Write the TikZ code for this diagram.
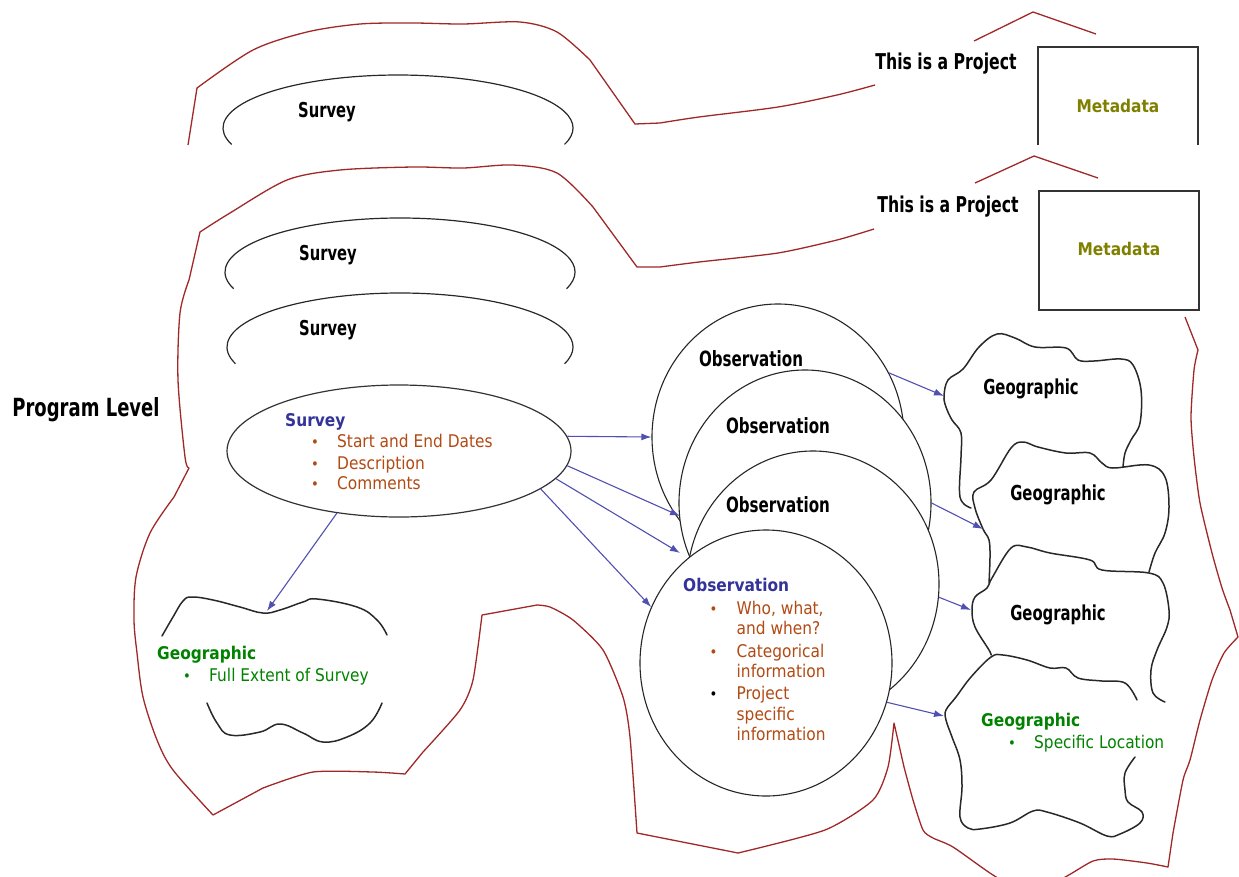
\documentclass[tikz,border=0pt]{standalone}
\usepackage{fontspec}
\setmainfont{DejaVu Sans}
\newfontfamily\hdfont[FakeStretch=0.72]{DejaVu Sans}
\newfontfamily\tafont[FakeStretch=0.88]{DejaVu Sans}
\usetikzlibrary{shapes.geometric,arrows.meta}
\definecolor{redline}{RGB}{160,40,40}
\definecolor{arrowblue}{RGB}{80,80,176}
\definecolor{survblue}{RGB}{51,51,153}
\definecolor{brownt}{RGB}{178,74,20}
\definecolor{greent}{RGB}{0,130,0}
\definecolor{olivet}{RGB}{128,128,0}
\definecolor{blobgray}{RGB}{40,40,40}
\begin{document}
\begin{tikzpicture}[x=1pt,y=-1pt,
  redl/.style={draw=redline,line width=1.3pt,line join=round},
  blob/.style={draw=blobgray,line width=1.5pt,line cap=round},
  arcl/.style={draw=blobgray,line width=1.2pt},
  obs/.style={ellipse,draw=black!85,line width=1.1pt,fill=white,minimum width=252,minimum height=266,inner sep=0},
  arr/.style={draw=arrowblue,line width=1.1pt,-{Latex[length=10pt,width=7pt]}},
  hd/.style={font=\hdfont\bfseries\fontsize{#1}{#1}\selectfont,inner sep=0,anchor=mid,yshift=-4.5pt},
  bl/.style={font=\tafont\bfseries\fontsize{17.5}{21}\selectfont,inner sep=0,anchor=mid west,yshift=-4pt},
  li/.style={font=\tafont\fontsize{17.5}{21}\selectfont,inner sep=0,anchor=mid west,text=brownt,yshift=-4pt},
  bul/.style={font=\tafont\fontsize{15}{15}\selectfont,inner sep=0,anchor=mid,yshift=-3.5pt},
  meta/.style={font=\tafont\bfseries\fontsize{17.5}{20}\selectfont,text=olivet,inner sep=0,anchor=mid,yshift=-4pt},
]
\useasboundingbox (0,0) rectangle (1239,876);
\begin{scope}
\clip (0,0) rectangle (1239,876);
% ---------- red outlines ----------
\draw[redl] (188,145) -- plot[smooth,tension=0.5] coordinates {(197,88) (253,50) (307,32) (360,24) (413,23) (463,24) (520,22) (557,32) (590,60)} -- (635,124) -- plot[smooth,tension=0.5] coordinates {(660,123) (699,117) (778,107) (837,95) (875,85)};
\draw[redl] (974,41) -- (1033,12) -- (1096,34);
\draw[redl] (975,183) -- (1034,156) -- (1098,178);
\draw[redl] plot[smooth,tension=0.4] coordinates {(874,229) (837,240) (778,253) (699,262) (660,267)} -- (637,267) -- plot[smooth,tension=0.5] coordinates {(593,207) (557,173) (513,165) (463,168) (413,167) (340,170) (287,180) (230,213) (200,232)}
  -- plot[smooth,tension=0.5] coordinates {(189,280) (180,313) (178,380) (185,457) (189,468)}
  -- plot[smooth,tension=0.5] coordinates {(174,497) (150,533) (136,577) (134,620) (137,653) (143,697) (157,740) (173,770) (213,815)}
  -- plot[smooth,tension=0.4] coordinates {(263,788) (313,772) (373,772) (405,774)}
  -- plot[smooth,tension=0.4] coordinates {(423,752) (460,710) (473,680) (482,615)}
  -- plot[smooth,tension=0.4] coordinates {(537,605) (550,607) (573,620) (603,650) (623,697) (630,737) (637,833)}
  -- plot[smooth,tension=0.4] coordinates {(738,853) (825,830) (873,800) (888,767) (894,723)}
  -- plot[smooth,tension=0.4] coordinates {(904,767) (913,800) (923,830) (933,838) (953,847) (993,875) (1030,895) (1067,876) (1093,861) (1113,859) (1147,863) (1168,867)}
  -- plot[smooth,tension=0.4] coordinates {(1173,833) (1183,780) (1190,760) (1200,720) (1212,680) (1224,653) (1238,637)}
  -- plot[smooth,tension=0.4] coordinates {(1230,610) (1222,588) (1212,553) (1200,503) (1194,457) (1191,417) (1194,370) (1198,350)} -- (1185,317);
% ---------- survey arcs ----------
\draw[arcl] (231.6,144.4) arc[start angle=162,end angle=378,x radius=175,y radius=53];
\draw[arcl] (233.6,288.7) arc[start angle=162,end angle=378,x radius=175,y radius=54];
\draw[arcl] (235.5,363.7) arc[start angle=162,end angle=378,x radius=173,y radius=54];
\node[hd=20.5] (sv1) at (327,110) {Survey};
\node[hd=20.5] (sv2) at (328,253) {Survey};
\node[hd=20.5] (sv3) at (328,328) {Survey};
\node[hd=25] (prog) at (86,409) {Program Level};
\node[hd=21.8] (proj1) at (946,62) {This is a Project};
\node[hd=21.8] (proj2) at (948,205) {This is a Project};
% ---------- metadata ----------
\draw[draw=black!80,line width=1.3pt] (1038,145) -- (1038,47) -- (1198,47) -- (1198,145);
\node[meta] (md1) at (1118,106) {Metadata};
\node[draw=black!80,line width=1.3pt,minimum width=160,minimum height=119,inner sep=0] (box2) at (1119,250.5) {};
\node[meta] (md2) at (1119,249) {Metadata};
% ---------- survey ellipse ----------
\node[ellipse,draw=black!80,line width=1.2pt,fill=white,minimum width=344,minimum height=132,inner sep=0] (surv) at (399,451) {};
\node[bl,text=survblue] (svt) at (285,420) {Survey};
\node[bul,text=brownt] (sb1) at (315,441) {\textbullet};
\node[li] (sl1) at (337,441) {Start and End Dates};
\node[bul,text=brownt] (sb2) at (315,463) {\textbullet};
\node[li] (sl2) at (337,463) {Description};
\node[bul,text=brownt] (sb3) at (315,483) {\textbullet};
\node[li] (sl3) at (337,483) {Comments};
% ---------- survey geographic ----------
\draw[blob] plot[smooth,tension=0.7] coordinates {(162,636) (173,617) (183,601) (192,597) (213,600) (240,607) (263,613) (280,610) (303,602) (317,599) (357,607) (377,620) (387,635)};
\draw[blob] plot[smooth,tension=0.7] coordinates {(207,703) (217,723) (230,735) (260,732) (280,724) (303,733) (323,742) (347,737) (370,723) (382,703)};
\coordinate (gs) at (267,611);
\node[bl,text=greent] (gst) at (157,653) {Geographic};
\node[bul,text=greent] (gsb) at (187,675) {\textbullet};
\node[li,text=greent] (gsl) at (209,675) {Full Extent of Survey};
% ---------- observations ----------
\node[obs] (obs1) at (778,437) {};
\node[hd=21] (o1t) at (751,359) {Observation};
\node[obs] (obs2) at (805,503) {};
\node[hd=21] (o2t) at (778,426) {Observation};
\node[obs] (obs3) at (813,584) {};
\node[hd=21] (o3t) at (778,505) {Observation};
\node[obs] (obs4) at (766,663) {};
\node[bl,text=survblue] (o4t) at (683,585) {Observation};
\node[bul,text=brownt] (ob1) at (713.5,608) {\textbullet};
\node[li] (ol1) at (736.5,608) {Who, what,};
\node[li] (ol2) at (736.5,628) {and when?};
\node[bul,text=brownt] (ob2) at (713.5,651) {\textbullet};
\node[li] (ol3) at (736.5,651) {Categorical};
\node[li] (ol4) at (736.5,671) {information};
\node[bul,text=black] (ob3) at (713.5,693) {\textbullet};
\node[li] (ol5) at (736.5,693) {Project};
\node[li] (ol6) at (736.5,714) {specific};
\node[li] (ol7) at (736.5,734) {information};
% ---------- geographic blobs ----------
\draw[blob] plot[smooth,tension=0.6] coordinates {(971,508) (960,497) (961,457) (961,433) (952,420) (946,407) (944,396) (948,380) (963,369) (979,347) (997,334) (1015,338) (1035,347) (1066,348) (1078,360) (1094,361) (1121,359) (1133,365) (1141,390) (1140,423) (1131,440) (1125,453) (1123,467)};
\draw[blob] plot[smooth,tension=0.6] coordinates {(989,583) (990,557) (989,540) (983,529) (975,508) (974,492) (991,480) (1011,448) (1023,442) (1038,447) (1066,453) (1090,453) (1102,463) (1113,468) (1149,465) (1165,477) (1169,507) (1165,533) (1155,553) (1149,572)};
\draw[blob] plot[smooth,tension=0.6] coordinates {(991,655) (989,650) (975,627) (972,610) (975,597) (987,588) (992,578) (1011,548) (1027,547) (1050,553) (1090,560) (1102,570) (1149,573) (1163,583) (1169,610) (1167,627) (1157,650) (1151,670) (1153,693) (1165,702)};
\draw[blob] plot[smooth,tension=0.6] coordinates {(1137,700) (1125,683) (1102,681) (1078,678) (1066,668) (1050,668) (1027,660) (1003,655) (991,657) (971,677) (956,697) (946,710) (946,720) (952,737) (960,760) (962,787) (960,817) (968,828) (980,829) (1010,823) (1033,811) (1047,812) (1080,823) (1107,836) (1120,834) (1140,823) (1142,812) (1128,802) (1125,790) (1125,773) (1135,757)};
\coordinate (g1) at (944,396);
\coordinate (g2) at (983,529);
\coordinate (g3) at (971,610);
\coordinate (g4) at (944,716);
\node[hd=20.6] (g1t) at (1031,387) {Geographic};
\node[hd=20.6] (g2t) at (1058,493) {Geographic};
\node[hd=20.6] (g3t) at (1058,613) {Geographic};
\node[bl,text=greent] (g4t) at (981,720) {Geographic};
\node[bul,text=greent] (g4b) at (1012,742) {\textbullet};
\node[li,text=greent] (g4l) at (1034,742) {Specific Location};
% ---------- arrows ----------
\coordinate (t2) at (680,516);
\coordinate (t3) at (680,553);
\draw[arr] (surv.5) -- (obs1.west);
\draw[arr] (surv.-5) -- (t2);
\draw[arr] (surv.-10) -- (t3);
\draw[arr] (surv.-15) -- (obs4.154);
\draw[arr] (surv.-135) -- (gs);
\draw[arr] (obs1.30) -- (g1);
\draw[arr] (obs2.east) -- (g2);
\draw[arr] (obs3.-6) -- (g3);
\draw[arr] (obs4.-18) -- (g4);
\end{scope}
\end{tikzpicture}
\end{document}
